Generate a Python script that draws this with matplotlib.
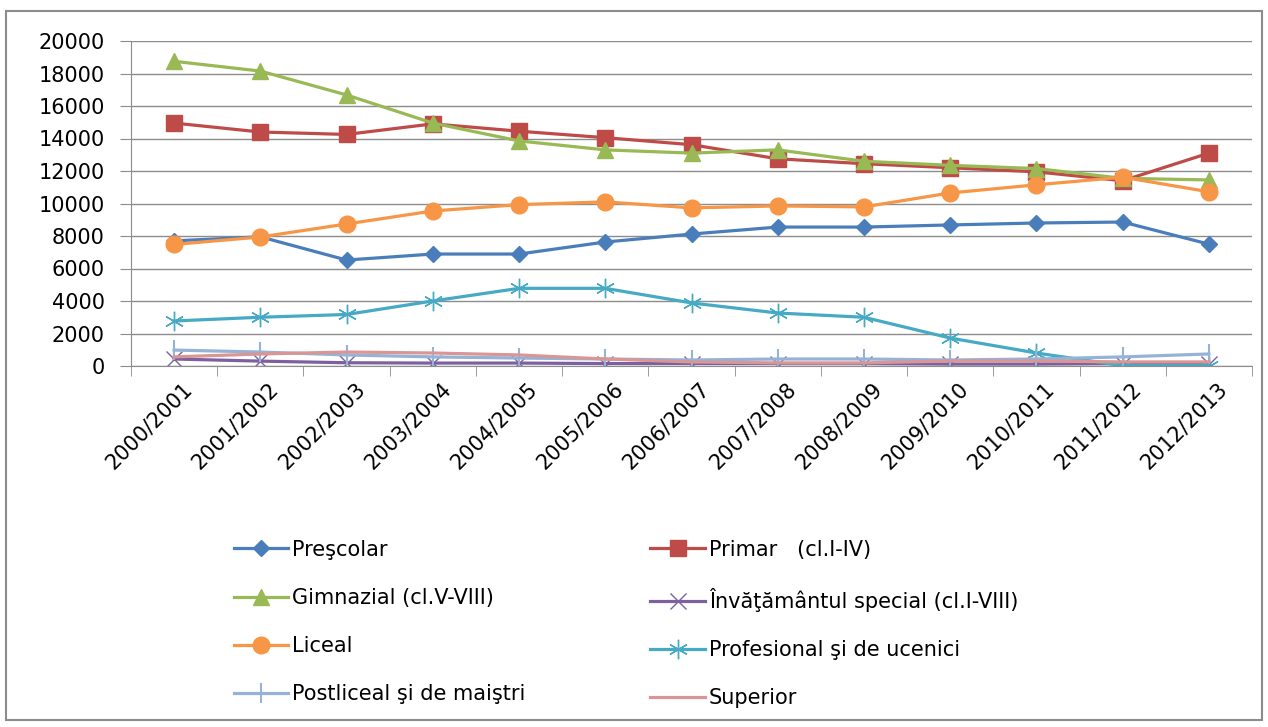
import numpy as np
import matplotlib.pyplot as plt
import matplotlib.transforms as mtransforms
from matplotlib.patches import Rectangle
from matplotlib.ticker import FixedLocator

plt.rcParams['font.family'] = ['DejaVu Sans']

ani = ['2000/2001', '2001/2002', '2002/2003', '2003/2004', '2004/2005', '2005/2006',
       '2006/2007', '2007/2008', '2008/2009', '2009/2010', '2010/2011', '2011/2012', '2012/2013']

prescolar = [7700, 7950, 6520, 6890, 6890, 7630, 8120, 8550, 8550, 8680, 8800, 8860, 7500]
primar = [14950, 14400, 14250, 14900, 14450, 14050, 13620, 12750, 12450, 12200, 11950, 11400, 13100]
gimnazial = [18750, 18150, 16680, 14950, 13850, 13300, 13100, 13300, 12600, 12350, 12150, 11550, 11450]
special = [430, 300, 200, 180, 180, 150, 150, 150, 150, 120, 120, 150, 150]
liceal = [7480, 7940, 8740, 9540, 9930, 10100, 9730, 9850, 9790, 10650, 11150, 11620, 10720]
profesional = [2770, 3000, 3170, 4000, 4780, 4780, 3880, 3260, 3000, 1720, 800, 20, 20]
postliceal = [980, 860, 680, 560, 490, 430, 370, 430, 430, 370, 430, 560, 740]
superior = [560, 740, 860, 800, 680, 430, 250, 190, 190, 310, 310, 250, 250]

fig = plt.figure(figsize=(12.68, 7.27), dpi=100)
ax = fig.add_axes([131 / 1268, 1 - 366 / 727, (1252 - 131) / 1268, (366 - 41) / 727])

# chenar exterior
fig.patches.append(Rectangle((6 / 1268, 1 - 720 / 727), 1256 / 1268, 709 / 727,
                             transform=fig.transFigure, fill=False, edgecolor='#8c8c8c', lw=1.5))

x = np.arange(len(ani))
lw = 2.3
ax.plot(x, prescolar, color='#4a7ebb', lw=lw, marker='D', ms=8, label='Preşcolar')
ax.plot(x, primar, color='#be4b48', lw=lw, marker='s', ms=12, label='Primar   (cl.I-IV)')
ax.plot(x, gimnazial, color='#98b954', lw=lw, marker='^', ms=12, label='Gimnazial (cl.V-VIII)')
ax.plot(x, special, color='#7d60a0', lw=lw, marker='x', ms=11, mew=1, label='Învăţământul special (cl.I-VIII)')
ax.plot(x, liceal, color='#f79646', lw=lw, marker='o', ms=12, label='Liceal')
ax.plot(x, profesional, color='#46aac5', lw=lw, marker=(6, 2, 0), ms=14, mew=1, label='Profesional şi de ucenici')
ax.plot(x, postliceal, color='#95b3d7', lw=lw, marker='|', ms=14, mew=1.5, label='Postliceal şi de maiştri')
ax.plot(x, superior, color='#d99694', lw=lw, label='Superior')

ax.set_xlim(-0.5, len(ani) - 0.5)
ax.set_ylim(0, 20000)
ax.set_yticks(np.arange(0, 20001, 2000))
ax.tick_params(axis='y', labelsize=15, length=8, color='#8c8c8c', pad=11)
ax.grid(axis='y', color='#8c8c8c', lw=1)
ax.set_axisbelow(True)

ax.set_xticks(x)
ax.set_xticklabels(ani, rotation=45, ha='right', rotation_mode='anchor', fontsize=15)
ax.tick_params(axis='x', which='major', length=0, pad=9)
offset = mtransforms.ScaledTranslation(0.08, 0, fig.dpi_scale_trans)
for lab in ax.get_xticklabels():
    lab.set_transform(lab.get_transform() + offset)
ax.xaxis.set_minor_locator(FixedLocator(np.arange(-0.5, len(ani), 1)))
ax.tick_params(axis='x', which='minor', length=7, color='#8c8c8c')

for s in ['top', 'right']:
    ax.spines[s].set_visible(False)
for s in ['left', 'bottom']:
    ax.spines[s].set_color('#8c8c8c')

# legenda pe randuri
handles, labels = ax.get_legend_handles_labels()
order = [0, 2, 4, 6, 1, 3, 5, 7]
leg = fig.legend([handles[i] for i in order], [labels[i] for i in order], ncol=2, loc='upper left',
                 bbox_to_anchor=(215 / 1268, 1 - 521 / 727),
                 frameon=False, fontsize=15, handlelength=2.6, labelspacing=1.35,
                 columnspacing=6.0, handletextpad=0.2)

fig.savefig('out.png', dpi=100)
